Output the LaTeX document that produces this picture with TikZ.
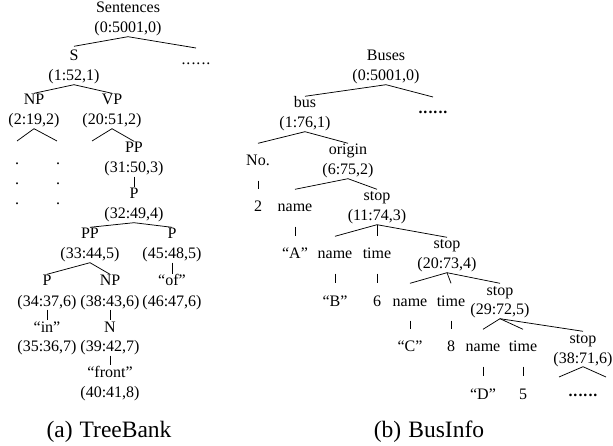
\documentclass[tikz,border=0pt]{standalone}
\usepackage{fontspec}
\setmainfont{Liberation Serif}
\newcommand{\sixdots}{.\kern1pt.\kern1pt.\kern1pt.\kern1pt.\kern1pt.}
\begin{document}
\begin{tikzpicture}[x=1pt,y=-1pt,
  every node/.style={font=\fontsize{16}{19}\selectfont, inner sep=0pt, text height=11.5pt, text depth=3.5pt},
  edge/.style={line width=0.75pt},
  bar/.style={line width=0.75pt, shorten <=11pt, shorten >=11pt},
  dotsn/.style={anchor=base},
  bdots/.style={anchor=base, font=\fontsize{16}{19}\selectfont\bfseries},
  capt/.style={anchor=base, font=\fontsize{23.5}{28}\selectfont}]
\useasboundingbox (0,0) rectangle (613,446);

% ---------- left tree ----------
\node (L0) at (128,9) {Sentences};
\node (L0t) at (128,29) {(0:5001,0)};
\coordinate (Ldc) at (196,48);
\node[dotsn] (Ld) at (196,65) {\sixdots};
\node (S) at (74,57) {S};
\node (St) at (74,77) {(1:52,1)};
\node (NP) at (34,101) {NP};
\node (NPt) at (34,121) {(2:19,2)};
\node (VP) at (112,101) {VP};
\node (VPt) at (112,121) {(20:51,2)};
\coordinate (NPa) at (17,141);
\coordinate (NPb) at (57,141);
\coordinate (VPa) at (92,141);
\foreach \x/\c in {17/a,58/b}
  \foreach \y/\r in {165/1,185/2,205/3}
    \node[dotsn] (d\c\r) at (\x,\y) {.};
\node (PP1) at (134,149) {PP};
\node (PP1t) at (134,169) {(31:50,3)};
\node (P2) at (134,195) {P};
\node (P2t) at (134,215) {(32:49,4)};
\node (PP3) at (90,235) {PP};
\node (PP3t) at (90,255) {(33:44,5)};
\node (P3) at (172,235) {P};
\node (P3t) at (172,255) {(45:48,5)};
\node (P4) at (47,282) {P};
\node (P4t) at (47,302) {(34:37,6)};
\node (NP4) at (110,282) {NP};
\node (NP4t) at (110,302) {(38:43,6)};
\node (of) at (172,282) {“of”};
\node (oft) at (172,302) {(46:47,6)};
\node (in) at (47,328) {“in”};
\node (int) at (47,348) {(35:36,7)};
\node (N5) at (110,328) {N};
\node (N5t) at (110,348) {(39:42,7)};
\node (fr) at (110,373) {“front”};
\node (frt) at (110,393) {(40:41,8)};

\draw[edge] (L0t.south) -- ([yshift=3pt]S.north);
\draw[edge] (L0t.south) -- (Ldc);
\draw[edge] (St.south) -- (NP.north);
\draw[edge] (St.south) -- (VP.north);
\draw[edge] (NPt.south) -- (NPa);
\draw[edge] (NPt.south) -- (NPb);
\draw[edge] (VPt.south) -- (VPa);
\draw[edge] (VPt.south) -- (PP1.north);
\draw[edge] (PP1t.south) -- (P2.north);
\draw[edge] (P2t.south) -- (PP3.north);
\draw[edge] (P2t.south) -- (P3.north);
\draw[edge] (PP3t.south) -- (P4.north);
\draw[edge] (PP3t.south) -- (NP4.north);
\draw[edge] (P3t.south) -- (of.north);
\draw[edge] (P4t.south) -- (in.north);
\draw[edge] (NP4t.south) -- (N5.north);
\draw[edge] (N5t.south) -- (fr.north);

% ---------- right tree ----------
\node (R0) at (386,57) {Buses};
\node (R0t) at (386,77) {(0:5001,0)};
\coordinate (Rdc) at (433,97);
\node[bdots] (Rd) at (433,114) {\sixdots};
\node (bus) at (305,104) {bus};
\node (bust) at (305,124) {(1:76,1)};
\node (No) at (258,162) {No.};
\node (two) at (258,208) {2};
\node (orig) at (348,151) {origin};
\node (origt) at (348,171) {(6:75,2)};
\node (nm1) at (295,208) {name};
\node (A) at (295,255) {“A”};
\node (st1) at (377,197) {stop};
\node (st1t) at (377,217) {(11:74,3)};
\node (nm2) at (335,255) {name};
\node (tm2) at (377,255) {time};
\node (B) at (335,302) {“B”};
\node (six) at (377,302) {6};
\node (st2) at (447,245) {stop};
\node (st2t) at (447,265) {(20:73,4)};
\node (nm3) at (410,302) {name};
\node (tm3) at (451,302) {time};
\node (C) at (410,348) {“C”};
\node (eight) at (451,348) {8};
\node (st3) at (500,291) {stop};
\node (st3t) at (500,311) {(29:72,5)};
\node (nm4) at (483,348) {name};
\node (tm4) at (523,348) {time};
\node (D) at (483,395) {“D”};
\node (five) at (523,395) {5};
\node (st4) at (583,339) {stop};
\node (st4t) at (583,359) {(38:71,6)};
\coordinate (R4a) at (559,377);
\coordinate (R4b) at (606,377);
\node[bdots] (Rd2) at (583,396) {\sixdots};

\draw[edge] (R0t.south) -- (bus.north);
\draw[edge] (R0t.south) -- (Rdc);
\draw[edge] (bust.south) -- ([yshift=11pt]No.north);
\draw[edge] (bust.south) -- (orig.north);
\draw[edge] (origt.south) -- ([yshift=11pt]nm1.north);
\draw[edge] (origt.south) -- (st1.north);
\draw[edge] (st1t.south) -- ([yshift=11pt]nm2.north);
\draw[edge] (st1t.south) -- ([yshift=11pt]tm2.north);
\draw[edge] (st1t.south) -- (st2.north);
\draw[edge] (st2t.south) -- ([yshift=11pt]nm3.north);
\draw[edge] (st2t.south) -- ([yshift=11pt]tm3.north);
\draw[edge] (st2t.south) -- (st3.north);
\draw[edge] (st3t.south) -- ([yshift=11pt]nm4.north);
\draw[edge] (st3t.south) -- ([yshift=11pt]tm4.north);
\draw[edge] (st3t.south) -- (st4.north);
\draw[edge] (st4t.south) -- (R4a);
\draw[edge] (st4t.south) -- (R4b);

\draw[bar] (No.south) -- (two.north);
\draw[bar] (nm1.south) -- (A.north);
\draw[bar] (nm2.south) -- (B.north);
\draw[bar] (tm2.south) -- (six.north);
\draw[bar] (nm3.south) -- (C.north);
\draw[bar] (tm3.south) -- (eight.north);
\draw[bar] (nm4.south) -- (D.north);
\draw[bar] (tm4.south) -- (five.north);

% ---------- captions ----------
\node[capt] (capa) at (109,437) {(a)\hspace{0.3em}TreeBank};
\node[capt] (capb) at (429,437) {(b)\hspace{0.3em}BusInfo};
\end{tikzpicture}
\end{document}
